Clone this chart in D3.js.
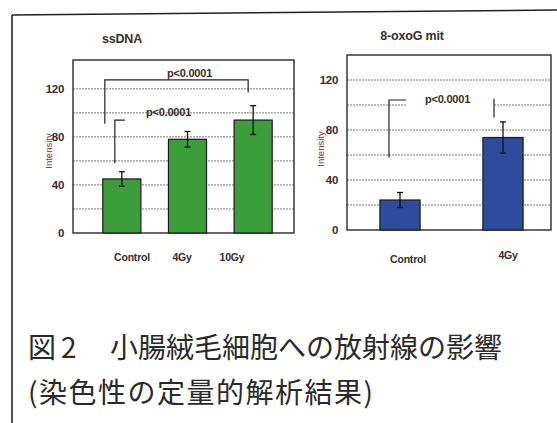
<!DOCTYPE html>
<html>
<head>
<meta charset="utf-8">
<script src="https://cdn.jsdelivr.net/npm/d3@7"></script>
<style>
  body { margin: 0; background: #fff; }
  svg { display: block; }
</style>
</head>
<body>
<div class="container"></div>
<script>
const w = 557;
const h = 423;

// ssDNA panel
const ssCats = ['Control', '4Gy', '10Gy'];
const ssMeans = [45, 78, 94];
const ssErr = [6, 6.5, 12];

// 8-oxoG mit panel
const oxoCats = ['Control', '4Gy'];
const oxoMeans = [24, 74];
const oxoErr = [6, 12.5];

const gridTicks = [20, 40, 60, 80, 100, 120];
const tickLabels = [0, 40, 80, 120];
const pText = 'p<0.0001';

const captionLine1 = ['図', '2', '小腸絨毛細胞への放射線の影響'];
const captionLine2 = '(染色性の定量的解析結果)';

const sans = 'Liberation Sans, Arial, sans-serif';
let svg = null;

window.onload = () => {
  setSvg();
  drawFrame();
  drawPanel({
    title: 'ssDNA', titleX: 122, titleY: 43,
    cats: ssCats, means: ssMeans, errs: ssErr,
    left: 73, right: 294, top: 60, bottom: 233, ymax: 144,
    band: [89, 286], padIn: 0.42,
    labelRange: [132, 232], labelY: [261, 261, 261],
    ylabX: 52, ylabY: 151,
    fill: '#3c9e3a',
  });
  drawPanel({
    title: '8-oxoG mit', titleX: 412, titleY: 40,
    cats: oxoCats, means: oxoMeans, errs: oxoErr,
    left: 347, right: 551, top: 55, bottom: 230, ymax: 140,
    band: [348.5, 554.5], padIn: 0.61,
    labelRange: [408, 508], labelY: [263, 259],
    ylabX: 324, ylabY: 149,
    fill: '#2f4c9c',
  });
  drawBrackets();
  drawCaption();
};

function setSvg() {
  svg = d3.select('.container').append('svg')
    .attr('width', w)
    .attr('height', h);
}

function drawFrame() {
  svg.append('line')
    .attr('x1', 12).attr('y1', 15).attr('x2', w).attr('y2', 10)
    .attr('stroke', '#222').attr('stroke-width', 1.6);
  svg.append('line')
    .attr('x1', 12).attr('y1', 15).attr('x2', 12).attr('y2', h)
    .attr('stroke', '#222').attr('stroke-width', 1.6);
}

const panels = {};

function drawPanel(p) {
  const g = svg.append('g');
  const y = d3.scaleLinear().domain([0, p.ymax]).range([p.bottom, p.top]);
  const x = d3.scaleBand().domain(p.cats).range(p.band)
    .paddingInner(p.padIn).paddingOuter(p.padIn / 2);
  const xl = d3.scalePoint().domain(p.cats).range(p.labelRange);
  panels[p.title] = { x, y };

  // gridlines
  g.selectAll('.grid').data(gridTicks).enter().append('line')
    .attr('x1', p.left).attr('x2', p.right)
    .attr('y1', (d) => y(d)).attr('y2', (d) => y(d))
    .attr('stroke', '#7a7a7a').attr('stroke-width', 1)
    .attr('stroke-dasharray', '2,1');

  // plot frame
  g.append('rect')
    .attr('x', p.left).attr('y', p.top)
    .attr('width', p.right - p.left).attr('height', p.bottom - p.top)
    .attr('fill', 'none').attr('stroke', '#1a1a1a').attr('stroke-width', 1.3);

  // bars
  g.selectAll('.bar').data(p.cats).enter().append('rect')
    .attr('x', (d) => x(d))
    .attr('y', (d, i) => y(p.means[i]))
    .attr('width', x.bandwidth())
    .attr('height', (d, i) => y(0) - y(p.means[i]))
    .attr('fill', p.fill)
    .attr('stroke', '#1a1a1a').attr('stroke-width', 1.2);

  // error bars
  const cx = (d) => x(d) + x.bandwidth() / 2;
  const eb = g.selectAll('.err').data(p.cats).enter().append('g');
  eb.append('line')
    .attr('x1', cx).attr('x2', cx)
    .attr('y1', (d, i) => y(p.means[i] + p.errs[i]))
    .attr('y2', (d, i) => y(p.means[i] - p.errs[i]))
    .attr('stroke', '#111').attr('stroke-width', 1.3);
  [1, -1].forEach((s) => {
    eb.append('line')
      .attr('x1', (d) => cx(d) - 3)
      .attr('x2', (d) => cx(d) + 3)
      .attr('y1', (d, i) => y(p.means[i] + s * p.errs[i]))
      .attr('y2', (d, i) => y(p.means[i] + s * p.errs[i]))
      .attr('stroke', '#111').attr('stroke-width', 1.3);
  });

  // y tick labels
  g.selectAll('.tick').data(tickLabels).enter().append('text')
    .text((d) => d)
    .attr('x', p.left - 9)
    .attr('y', (d) => y(d) + 4)
    .attr('text-anchor', 'end')
    .attr('font-family', sans)
    .attr('font-size', '11.5px')
    .attr('font-weight', 'bold')
    .attr('letter-spacing', '-0.3px')
    .attr('fill', '#3a2c2c');

  // x labels
  g.selectAll('.xlab').data(p.cats).enter().append('text')
    .text((d) => d)
    .attr('x', (d) => xl(d))
    .attr('y', (d, i) => p.labelY[i])
    .attr('text-anchor', 'middle')
    .attr('font-family', sans)
    .attr('font-size', '10.5px')
    .attr('font-weight', 'bold')
    .attr('letter-spacing', '-0.2px')
    .attr('fill', '#3a2c2c');

  // y axis title
  g.append('text')
    .text('Intensity')
    .attr('transform', `translate(${p.ylabX},${p.ylabY}) rotate(-90)`)
    .attr('text-anchor', 'middle')
    .attr('font-family', sans)
    .attr('font-size', '9.5px')
    .attr('fill', '#7a3434');

  // title
  g.append('text')
    .text(p.title)
    .attr('x', p.titleX).attr('y', p.titleY)
    .attr('text-anchor', 'middle')
    .attr('font-family', sans)
    .attr('font-size', '12.5px')
    .attr('font-weight', 'bold')
    .attr('letter-spacing', '-0.2px')
    .attr('fill', '#3a2c2c');
}

function bracketLine(points) {
  svg.append('path')
    .attr('d', d3.line()(points))
    .attr('fill', 'none')
    .attr('stroke', '#222').attr('stroke-width', 1.2);
}

function pLabel(x, y) {
  svg.append('text')
    .text(pText)
    .attr('x', x).attr('y', y)
    .attr('text-anchor', 'middle')
    .attr('font-family', sans)
    .attr('font-size', '11px')
    .attr('font-weight', 'bold')
    .attr('letter-spacing', '-0.2px')
    .attr('fill', '#3a2c2c');
}

function drawBrackets() {
  const a = panels['ssDNA'];
  const cx = (s, c) => s.x(c) + s.x.bandwidth() / 2;

  // Control vs 10Gy
  const x0 = cx(a, 'Control') - 17;
  const x1 = cx(a, '10Gy') - 5;
  bracketLine([[x0, a.y(91)], [x0, a.y(127.5)], [x1, a.y(127.5)], [x1, a.y(117)]]);
  pLabel((x0 + x1) / 2 + 13, a.y(129.5));

  // Control vs 4Gy
  const x2 = cx(a, 'Control') - 7;
  bracketLine([[x2, a.y(58)], [x2, a.y(94)], [x2 + 10, a.y(94)]]);
  pLabel(cx(a, '4Gy') - 19, a.y(97.5));

  // 8-oxoG mit
  const b = panels['8-oxoG mit'];
  const x3 = cx(b, 'Control') - 11;
  const x4 = cx(b, '4Gy') - 9;
  bracketLine([[x3, b.y(58)], [x3, b.y(104)], [x3 + 17, b.y(104)]]);
  bracketLine([[x4, b.y(90)], [x4, b.y(105)]]);
  svg.append('rect')
    .attr('x', x3 + 18).attr('y', b.y(109))
    .attr('width', x4 - x3 - 19).attr('height', b.y(96) - b.y(109))
    .attr('fill', '#fff');
  pLabel((x3 + x4) / 2 + 6, b.y(102));
}

function drawCaption() {
  const font = "'Noto Sans CJK JP', 'Noto Sans CJK SC', sans-serif";
  const t1 = svg.append('text')
    .attr('y', 358)
    .attr('font-family', font)
    .attr('font-size', '28px')
    .attr('fill', '#2a2a2a');
  t1.selectAll('tspan').data(captionLine1).enter().append('tspan')
    .attr('x', (d, i) => [28, 61, 110][i])
    .text((d) => d);

  svg.append('text')
    .text(captionLine2)
    .attr('x', 28).attr('y', 403)
    .attr('font-family', font)
    .attr('font-size', '28px')
    .attr('letter-spacing', '1.5px')
    .attr('fill', '#2a2a2a');
}
</script>
</body>
</html>
